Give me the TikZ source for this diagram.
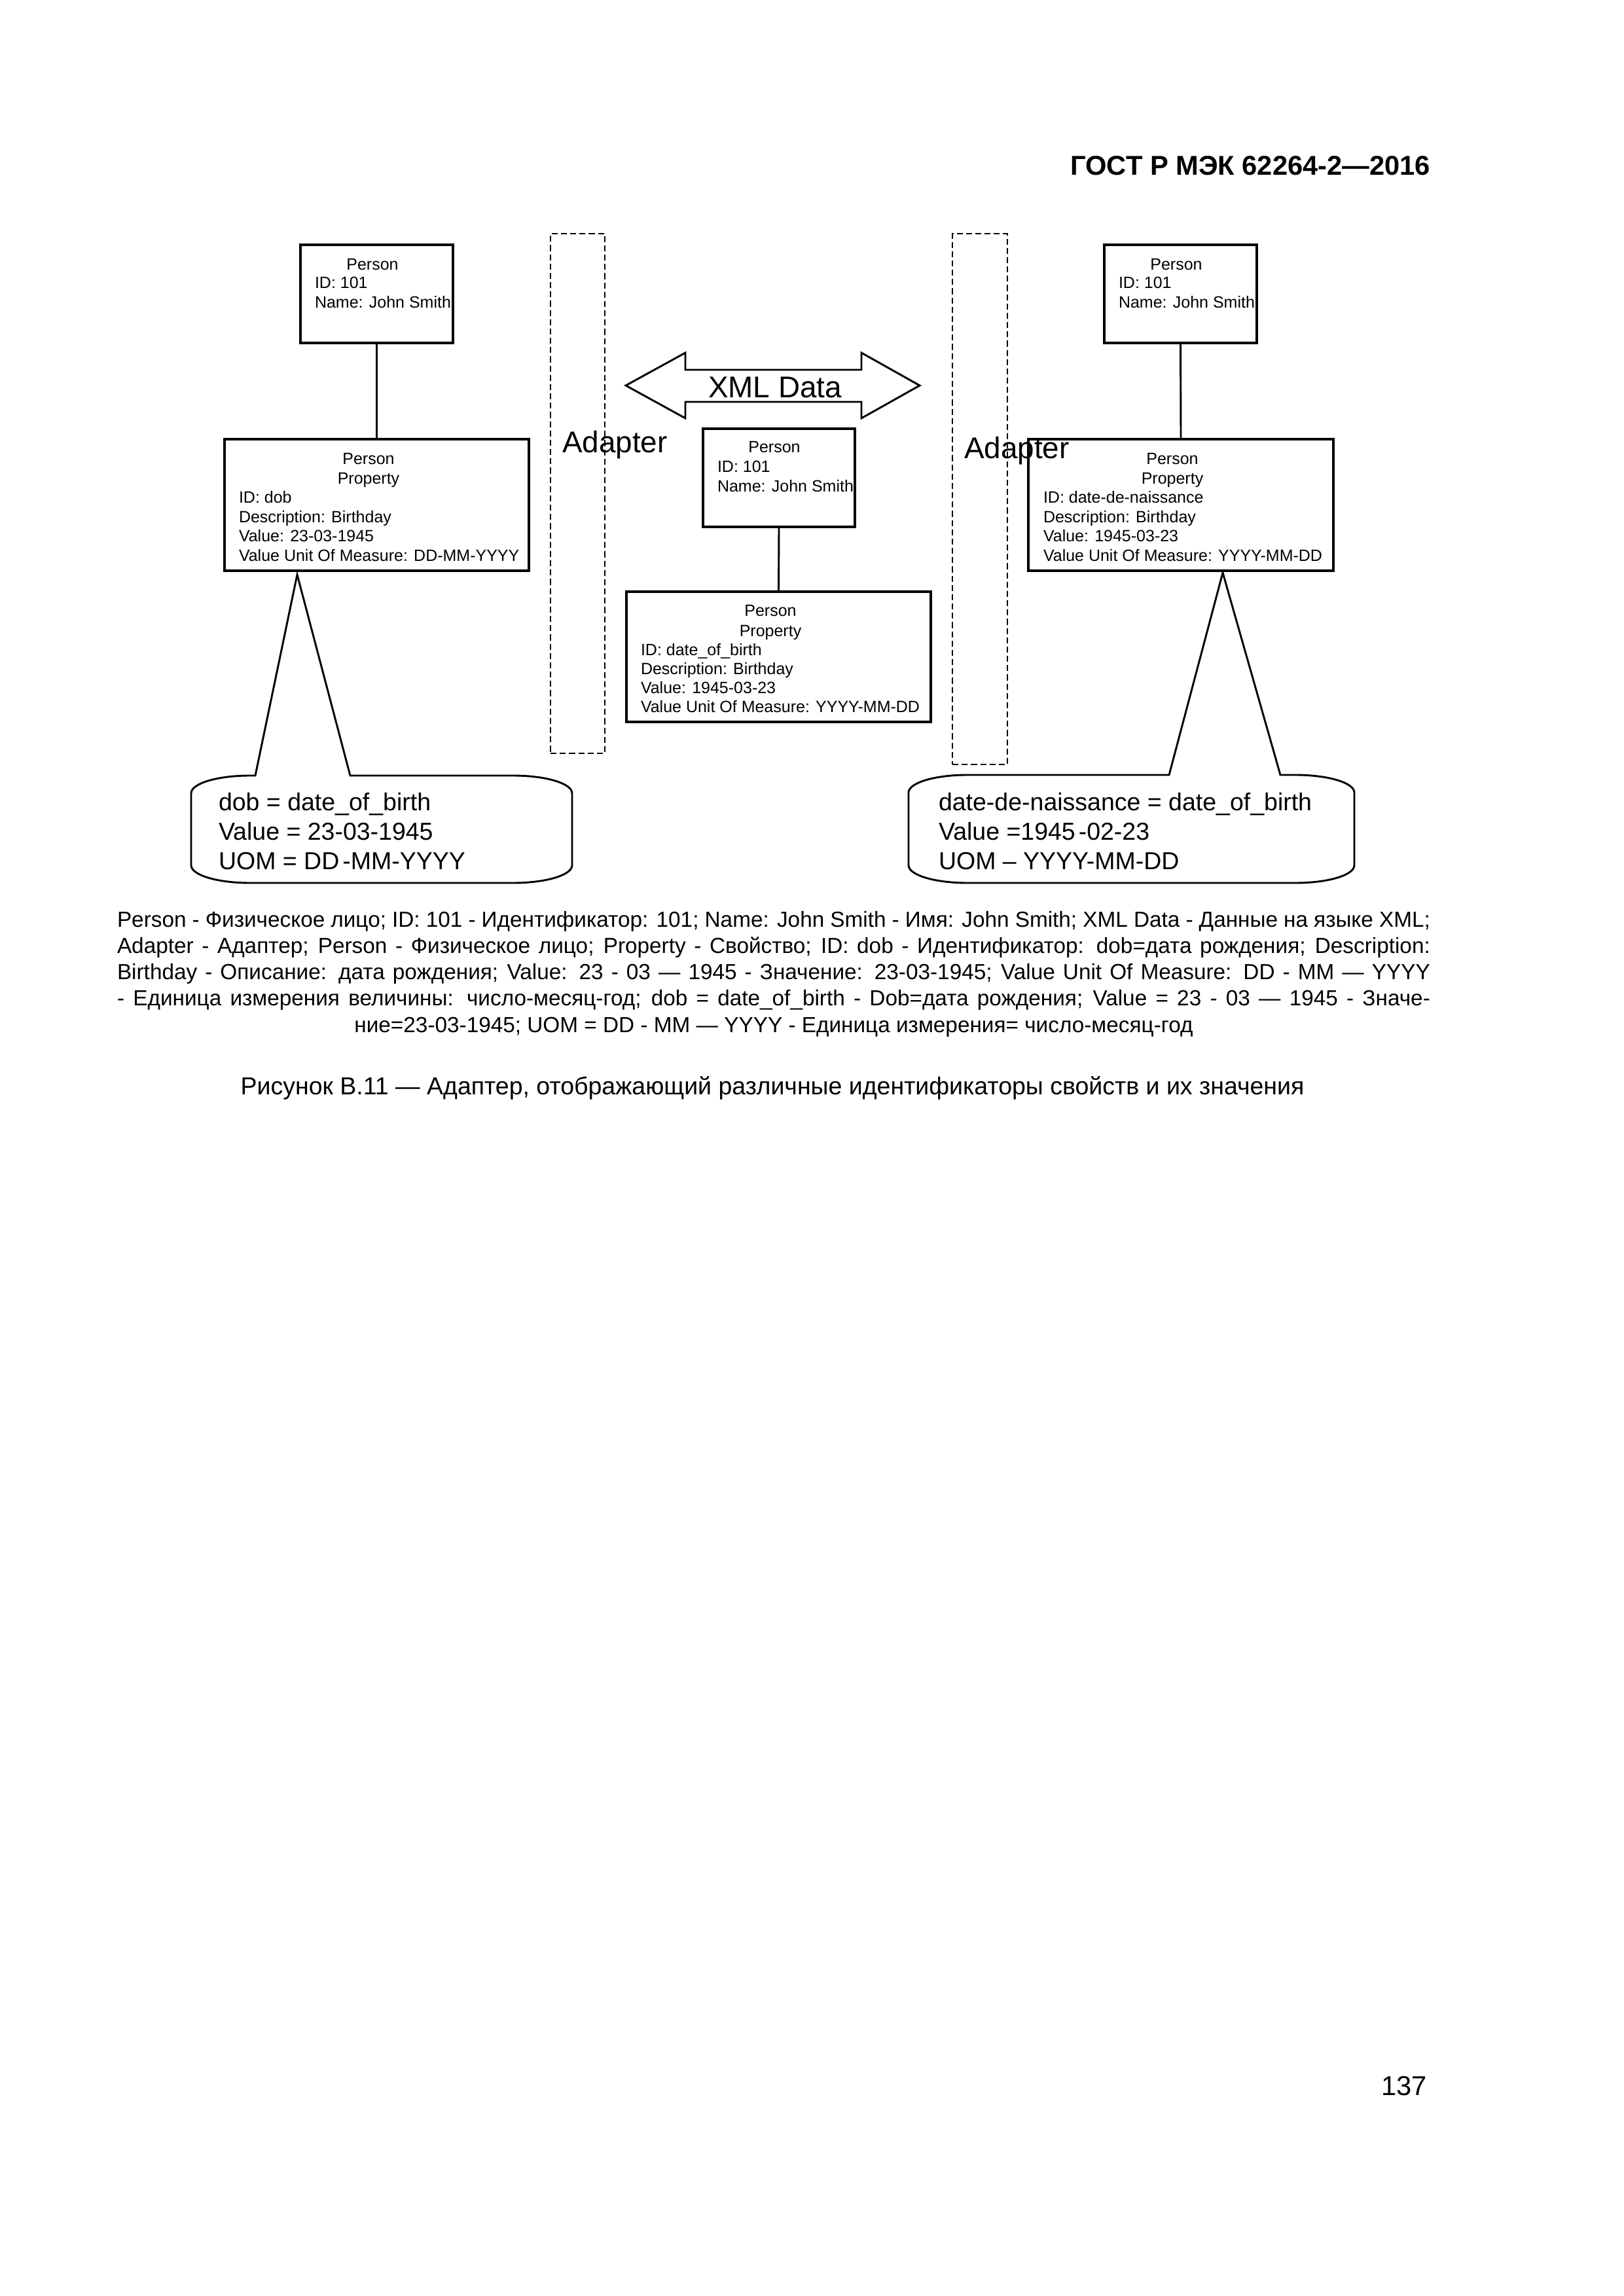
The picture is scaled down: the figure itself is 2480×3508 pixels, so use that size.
\documentclass[tikz,border=0pt]{standalone}
\usepackage{fontspec}
\setmainfont{Liberation Sans}
\usetikzlibrary{calc}
\newcommand\vlines[2]{\vtop{\baselineskip=#1\lineskiplimit=-\maxdimen\lineskip=0pt #2}}
\newcommand\mkbox[6]{\node[#6, minimum width={(#4-#2)*0.24pt}, minimum height={(#5-#3)*0.24pt}] (#1) at (#2,#3) {};}
\newcommand\bubble[7]{%
\draw[callout] (#5,#3) -- (#7) -- (#6,#3) -- ({#2-90},#3)
 .. controls ({#2-40},#3) and (#2,{#3+12}) .. (#2,{#3+27}) -- (#2,{#4-27})
 .. controls (#2,{#4-12}) and ({#2-40},#4) .. ({#2-90},#4) -- ({#1+90},#4)
 .. controls ({#1+40},#4) and (#1,{#4-12}) .. (#1,{#4-27}) -- (#1,{#3+27})
 .. controls (#1,{#3+12}) and ({#1+40},#3) .. ({#1+90},#3) -- cycle;}
\begin{document}
\begin{tikzpicture}[x=0.24pt,y=-0.24pt,
 every node/.style={inner sep=0pt, outer sep=0pt},
 umlbox/.style={draw, line width=0.75pt, anchor=north west},
 adapterbox/.style={draw, line width=0.7pt, dash pattern=on 2.2pt off 1.2pt, anchor=north west},
 conn/.style={line width=0.7pt},
 callout/.style={line width=0.7pt, line join=miter},
 small/.style={font=\fontsize{6pt}{7pt}\selectfont},
 ttl/.style={small, anchor=base},
 bodytxt/.style={small, anchor=base west},
 bubtxt/.style={font=\fontsize{9pt}{10.85pt}\selectfont, anchor=base west},
 big/.style={font=\fontsize{11pt}{13pt}\selectfont},
]
\fill[white] (0,0) rectangle (2480,3508);
\useasboundingbox (0,0) rectangle (2480,3508);

% header
\node[font=\bfseries\fontsize{10pt}{12pt}\selectfont, anchor=base east] (hdr) at (2185,268) {ГОСТ Р МЭК 62264-2—2016};

% adapters
\mkbox{ad1}{841}{357}{924}{1151}{adapterbox}
\mkbox{ad2}{1455}{357}{1539}{1168}{adapterbox}

% left side
\mkbox{b1}{459}{374}{692}{524}{umlbox}
\node[ttl] (b1t) at (569,413) {Person};
\node[bodytxt] (b1b) at (481,441) {\vlines{7pt}{\hbox{ID: 101}\hbox{Name: John Smith}}};
\mkbox{pp1}{343}{671}{808}{872}{umlbox}
\node[ttl] (pp1t) at (563,710) {Person};
\node[ttl] (pp1s) at (563,740) {Property};
\node[bodytxt] (pp1b) at (365,769) {\vlines{7.08pt}{\hbox{ID: dob}\hbox{Description: Birthday}\hbox{Value: 23-03-1945}\hbox{Value Unit Of Measure: DD-MM-YYYY}}};
\draw[conn] (b1.south) -- (pp1.north);

% middle
\mkbox{b2}{1074}{655}{1306}{805}{umlbox}
\node[ttl] (b2t) at (1183,692) {Person};
\node[bodytxt] (b2b) at (1096,722) {\vlines{7pt}{\hbox{ID: 101}\hbox{Name: John Smith}}};
\mkbox{pp2}{957}{904}{1422}{1103}{umlbox}
\node[ttl] (pp2t) at (1177,942) {Person};
\node[ttl] (pp2s) at (1177,972) {Property};
\node[bodytxt] (pp2b) at (979,1001) {\vlines{7pt}{\hbox{ID: date\_of\_birth}\hbox{Description: Birthday}\hbox{Value: 1945-03-23}\hbox{Value Unit Of Measure: YYYY-MM-DD}}};
\draw[conn] (b2.south) -- (pp2.north);

% right side
\mkbox{b3}{1687}{374}{1920}{524}{umlbox}
\node[ttl] (b3t) at (1797,413) {Person};
\node[bodytxt] (b3b) at (1709,441) {\vlines{7pt}{\hbox{ID: 101}\hbox{Name: John Smith}}};
\mkbox{pp3}{1571}{671}{2037}{872}{umlbox}
\node[ttl] (pp3t) at (1791,710) {Person};
\node[ttl] (pp3s) at (1791,740) {Property};
\node[bodytxt] (pp3b) at (1594,769) {\vlines{7.08pt}{\hbox{ID: date-de-naissance}\hbox{Description: Birthday}\hbox{Value: 1945-03-23}\hbox{Value Unit Of Measure: YYYY-MM-DD}}};
\draw[conn] (b3.south) -- (pp3.north);

% XML data arrow
\draw[conn, line join=miter] (956,589) -- (1047,539) -- (1047,565) -- (1316,565) -- (1316,539) -- (1405,589) -- (1316,639) -- (1316,614) -- (1047,614) -- (1047,639) -- cycle;
\node[big, anchor=base] (xml) at (1184,608) {XML Data};

% adapter labels
\node[big, anchor=base west] (ad1l) at (859,692) {Adapter};
\node[big, anchor=base west] (ad2l) at (1473,701) {Adapter};

% callouts
\coordinate (ap1) at (454,878);
\coordinate (ap2) at (1868,875);
\bubble{292}{874}{1185}{1349}{390}{535}{ap1}
\bubble{1388}{2069}{1184}{1349}{1786}{1956}{ap2}
\node[bubtxt] (bt1) at (334,1238) {\vlines{10.85pt}{\hbox{dob = date\_of\_birth}\hbox{Value = 23-03-1945}\hbox{UOM = DD\kern1.2pt-MM-YYYY}}};
\node[bubtxt] (bt2) at (1434,1238) {\vlines{10.85pt}{\hbox{date-de-naissance = date\_of\_birth}\hbox{Value =1945\kern1.2pt-02-23}\hbox{UOM – YYYY-MM-DD}}};

% legend paragraph
\node[anchor=base west, font=\fontsize{8pt}{9.67pt}\selectfont] (legend) at (179,1416) {\vlines{9.67pt}{%
\hbox to 481.44pt{Person - Физическое лицо; ID: 101 - Идентификатор: 101; Name: John Smith - Имя: John Smith; XML Data - Данные на языке XML;}%
\hbox to 481.44pt{Adapter - Адаптер; Person - Физическое лицо; Property - Свойство; ID: dob - Идентификатор: dob=дата рождения; Description:}%
\hbox to 481.44pt{Birthday - Описание: дата рождения; Value: 23 - 03 — 1945 - Значение: 23-03-1945; Value Unit Of Measure: DD - MM — YYYY}%
\hbox to 481.44pt{- Единица измерения величины: число-месяц-год; dob = date\_of\_birth - Dob=дата рождения; Value = 23 - 03 — 1945 - Значе-}%
\hbox to 481.44pt{\hfil ние=23-03-1945; UOM = DD - MM — YYYY - Единица измерения= число-месяц-год\hfil}}};

% figure title
\node[font=\fontsize{9pt}{11pt}\selectfont, anchor=base] (fig) at (1180,1672) {Рисунок В.11 — Адаптер, отображающий различные идентификаторы свойств и их значения};

% page number
\node[font=\fontsize{10pt}{12pt}\selectfont, anchor=base east] (pg) at (2180,3201) {137};
\end{tikzpicture}
\end{document}
